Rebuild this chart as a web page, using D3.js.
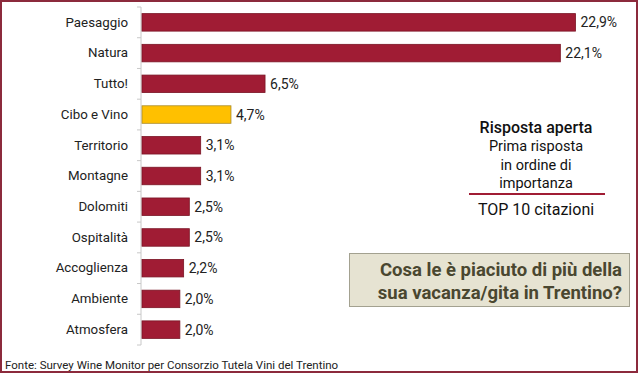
<!DOCTYPE html>
<html><head><meta charset="utf-8">
<script src="https://cdn.jsdelivr.net/npm/d3@7"></script>
<style>body{margin:0;background:#fff}svg{display:block}</style>
</head><body>
<svg id="c" width="640" height="375"></svg>
<script>
const categories = ["Paesaggio","Natura","Tutto!","Cibo e Vino","Territorio","Montagne","Dolomiti","Ospitalità","Accoglienza","Ambiente","Atmosfera"];
const values = [22.9,22.1,6.5,4.7,3.1,3.1,2.5,2.5,2.2,2.0,2.0];
const highlight = "Cibo e Vino";
const noteLines = ["Risposta aperta","Prima risposta","in ordine di","importanza"];
const noteBottom = "TOP 10 citazioni";
const questionLines = ["Cosa le è piaciuto di più della","sua vacanza/gita in Trentino?"];
const source = "Fonte: Survey Wine Monitor per Consorzio Tutela Vini del Trentino";

const svg = d3.select("#c");
const font = "Roboto, 'DejaVu Sans', sans-serif";

// frame
svg.append("rect").attr("x",1).attr("y",1).attr("width",636).attr("height",371)
  .attr("fill","none").attr("stroke","#8c2a3c").attr("stroke-width",2);

const x = d3.scaleLinear().domain([0,25]).range([142,142+18.93*25]);
const y = d3.scaleBand().domain(categories).range([7,345]).paddingInner(0.43).paddingOuter(0.215);

// axis
const ax = svg.append("g").attr("transform","translate(141,0)")
  .call(d3.axisLeft(y).tickSize(0).tickPadding(13).tickFormat(d=>d));
ax.select(".domain").attr("stroke","#c8c8c8").attr("d","M0,7V345");
ax.selectAll("text").attr("font-family",font).attr("font-size",13.3).attr("fill","#222");
// separators between categories
const step = y.step();
svg.append("g").selectAll("line").data(d3.range(categories.length+1)).join("line")
  .attr("x1",137).attr("x2",141)
  .attr("y1",i=>7+i*step).attr("y2",i=>7+i*step)
  .attr("stroke","#c8c8c8");

svg.append("g").selectAll("rect").data(categories).join("rect")
  .attr("x",x(0)).attr("y",d=>y(d)).attr("height",y.bandwidth())
  .attr("width",(d,i)=>x(values[i])-x(0))
  .attr("fill",d=>d===highlight?"#ffc000":"#a01c34")
  .attr("stroke",d=>d===highlight?"#a88a2a":"#7a1525").attr("stroke-width",0.8);

svg.append("g").selectAll("text").data(categories).join("text")
  .attr("x",(d,i)=>x(values[i])+5).attr("y",d=>y(d)+y.bandwidth()/2).attr("dy","0.36em")
  .attr("font-family",font).attr("font-size",14).attr("fill","#222")
  .text((d,i)=>values[i].toFixed(1).replace(".",",")+"%");

// note
const nt = svg.append("g").attr("font-family",font).attr("fill","#111").attr("text-anchor","middle");
nt.selectAll("text").data(noteLines).join("text")
  .attr("x",536).attr("y",(d,i)=>133+i*18.3)
  .attr("font-size",(d,i)=>i===0?16:14.5).attr("font-weight",(d,i)=>i===0?500:400)
  .text(d=>d);
svg.append("line").attr("x1",469).attr("x2",605).attr("y1",194).attr("y2",194)
  .attr("stroke","#a01c34").attr("stroke-width",2);
svg.append("text").attr("x",536).attr("y",215).attr("text-anchor","middle")
  .attr("font-family",font).attr("font-size",16).attr("font-weight",400).attr("fill","#111").text(noteBottom);

// question box
svg.append("rect").attr("x",349.5).attr("y",253.5).attr("width",280).attr("height",53)
  .attr("fill","#e6e3d2").attr("stroke","#a3a190").attr("stroke-width",1);
svg.append("g").selectAll("text").data(questionLines).join("text")
  .attr("x",622).attr("y",(d,i)=>276+i*22.5).attr("text-anchor","end")
  .attr("font-family",font).attr("font-size",18.5).attr("font-weight",700).attr("fill","#4a4730")
  .text(d=>d);

svg.append("text").attr("x",5).attr("y",369).attr("font-family",font).attr("font-size",11.5)
  .attr("fill","#222").text(source);
</script>
</body></html>
